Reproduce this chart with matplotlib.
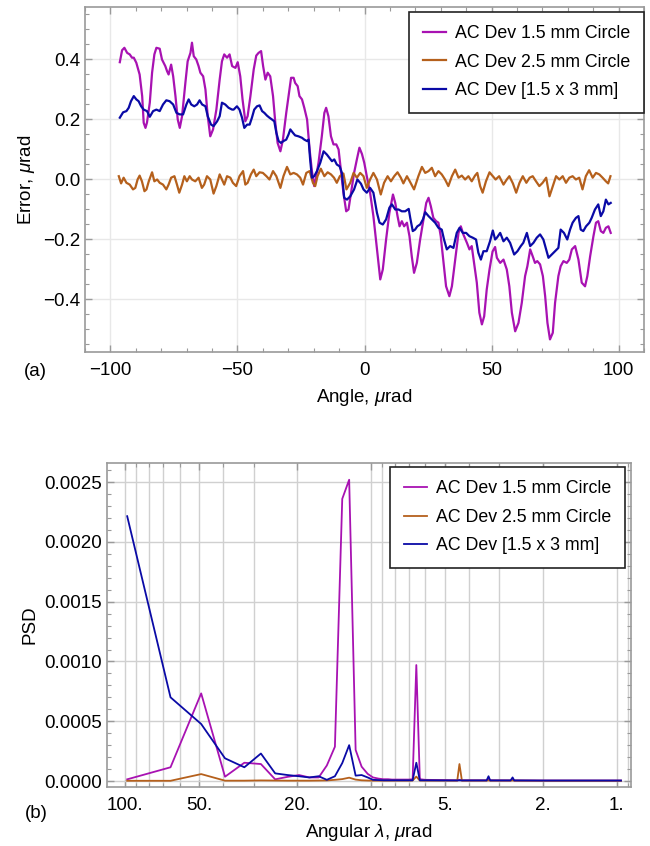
import numpy as np
import matplotlib
matplotlib.use("Agg")
import matplotlib.pyplot as plt
from matplotlib.ticker import MultipleLocator, FixedLocator, LogLocator, NullFormatter, FuncFormatter

plt.rcParams['font.family'] = ['Liberation Sans', 'DejaVu Sans']
plt.rcParams['mathtext.fontset'] = 'custom'
plt.rcParams['mathtext.rm'] = 'Liberation Sans'
plt.rcParams['mathtext.it'] = 'Liberation Sans:italic'

labels = ["AC Dev 1.5 mm Circle", "AC Dev 2.5 mm Circle", "AC Dev [1.5 x 3 mm]"]
colors = ["#A812B2", "#B5601C", "#0A0AA6"]

# ---- (a) error vs angle
ang_15 = [-96.3, -95.4, -94.5, -93.4, -92.4, -91.5, -90.8, -89.8, -88.5, -87.5, -86.9, -86.2, -85.6, -84.5,
          -83.6, -82.7, -81.9, -80.6, -79.7, -78.4, -77.7, -77.1, -76.1, -75.3, -74.4, -73.5, -72.7, -71.8,
          -70.5, -69.6, -68.5, -67.9, -67.2, -66.2, -65.3, -64.6, -63.5, -62.6, -61.7, -60.7, -59.6, -58.3,
          -57.0, -56.1, -55.2, -54.1, -53.1, -52.1, -50.8, -49.9, -48.9, -48.0, -46.9, -46.0, -44.9, -43.6,
          -42.6, -41.7, -40.7, -39.9, -39.0, -38.1, -37.1, -36.0, -35.1, -34.2, -33.1, -32.1, -30.8, -29.9,
          -28.9, -27.9, -27.3, -26.3, -25.6, -24.6, -23.7, -22.6, -21.6, -20.7, -19.8, -19.0, -18.1, -16.8,
          -15.8, -15.1, -14.2, -13.2, -12.2, -11.1, -10.2, -9.3, -8.3, -7.2, -6.3, -5.3, -4.1, -3.0, -2.0,
          -1.0, -0.1, 0.9, 2.2, 3.5, 4.9, 6.2, 7.2, 8.5, 9.8, 11.2, 12.1, 13.0, 13.8, 14.7, 15.6, 16.7, 17.7,
          18.6, 19.5, 20.6, 21.9, 23.2, 24.3, 25.2, 26.1, 27.1, 28.2, 29.1, 30.0, 31.1, 32.1, 33.4, 34.4,
          35.7, 37.0, 37.9, 38.9, 40.3, 41.3, 42.2, 43.1, 44.2, 45.2, 46.2, 47.1, 48.1, 49.2, 50.4, 51.4,
          52.1, 53.4, 54.7, 56.0, 57.0, 58.0, 59.3, 60.6, 61.9, 63.2, 64.1, 65.2, 66.2, 67.1, 68.0, 69.1,
          70.2, 71.1, 72.0, 73.0, 74.1, 75.0, 76.3, 77.2, 78.3, 79.6, 80.6, 81.6, 82.9, 84.2, 85.5, 86.8,
          87.7, 88.8, 90.1, 91.1, 92.0, 93.0, 94.0, 95.0, 96.0, 96.9]
err_15 = [0.391, 0.431, 0.439, 0.422, 0.417, 0.406, 0.406, 0.389, 0.35, 0.278, 0.189, 0.172, 0.19, 0.256,
          0.356, 0.417, 0.439, 0.436, 0.4, 0.378, 0.361, 0.35, 0.383, 0.344, 0.278, 0.2, 0.172, 0.211,
          0.322, 0.394, 0.422, 0.456, 0.411, 0.4, 0.378, 0.356, 0.344, 0.3, 0.211, 0.144, 0.167, 0.233,
          0.333, 0.394, 0.417, 0.406, 0.417, 0.378, 0.372, 0.391, 0.344, 0.267, 0.194, 0.211, 0.278, 0.367,
          0.413, 0.422, 0.428, 0.378, 0.333, 0.356, 0.344, 0.278, 0.189, 0.122, 0.094, 0.133, 0.222, 0.278,
          0.339, 0.339, 0.322, 0.311, 0.278, 0.267, 0.239, 0.2, 0.1, 0.028, -0.022, 0.011, 0.056, 0.144,
          0.222, 0.239, 0.211, 0.144, 0.117, 0.117, 0.1, 0.033, -0.044, -0.106, -0.1, -0.044, 0.022, 0.067,
          0.106, 0.085, 0.056, 0.011, -0.044, -0.122, -0.233, -0.333, -0.3, -0.2, -0.111, -0.05, -0.078,
          -0.122, -0.156, -0.139, -0.156, -0.144, -0.189, -0.256, -0.311, -0.278, -0.2, -0.133, -0.078,
          -0.061, -0.089, -0.128, -0.139, -0.144, -0.189, -0.278, -0.356, -0.389, -0.356, -0.267, -0.178,
          -0.156, -0.183, -0.211, -0.233, -0.222, -0.278, -0.344, -0.444, -0.483, -0.456, -0.367, -0.3,
          -0.24, -0.225, -0.261, -0.278, -0.267, -0.3, -0.356, -0.444, -0.506, -0.478, -0.411, -0.322,
          -0.289, -0.233, -0.256, -0.278, -0.272, -0.283, -0.322, -0.389, -0.478, -0.533, -0.511, -0.411,
          -0.322, -0.289, -0.272, -0.278, -0.267, -0.233, -0.222, -0.267, -0.344, -0.356, -0.322, -0.256,
          -0.189, -0.144, -0.139, -0.172, -0.178, -0.161, -0.156, -0.178]

ang_25 = [-96.7, -95.8, -94.8, -93.7, -92.4, -91.1, -90.2, -89.3, -88.5, -87.6, -86.6, -85.8, -84.9, -83.6,
          -82.7, -81.6, -80.6, -79.3, -78.0, -77.1, -76.1, -74.8, -73.8, -72.9, -71.8, -70.9, -69.9, -68.8,
          -67.9, -66.6, -65.3, -64.0, -63.1, -62.0, -60.7, -59.4, -58.3, -57.0, -56.1, -55.2, -54.1, -52.8,
          -51.8, -50.5, -49.2, -47.8, -46.9, -46.0, -44.7, -43.6, -42.6, -41.3, -40.0, -38.6, -37.4, -36.0,
          -34.7, -33.1, -31.9, -30.5, -29.2, -27.9, -26.6, -25.3, -24.2, -22.9, -21.6, -20.3, -19.4, -18.5,
          -17.2, -15.8, -14.5, -13.2, -12.0, -10.9, -9.7, -8.3, -7.1, -5.6, -4.3, -3.0, -1.7, -0.4, 0.9, 2.2,
          3.5, 4.9, 6.4, 7.7, 9.1, 10.4, 11.7, 13.0, 14.3, 15.3, 16.7, 18.0, 19.5, 21.2, 22.6, 23.9, 25.2,
          26.5, 27.8, 29.1, 30.4, 31.7, 33.0, 34.4, 35.7, 37.0, 38.3, 39.6, 40.9, 42.2, 43.5, 44.4, 45.5,
          46.5, 47.8, 49.2, 50.5, 51.6, 53.0, 54.7, 56.0, 57.0, 58.4, 59.7, 61.0, 62.3, 63.7, 65.0, 66.2,
          67.5, 68.8, 70.1, 71.5, 72.8, 74.1, 75.4, 76.7, 78.0, 79.3, 80.6, 81.9, 83.2, 84.5, 85.8, 87.1,
          88.4, 89.8, 91.1, 92.4, 93.7, 95.0, 95.9, 96.8]
err_25 = [0.011, -0.013, 0.006, -0.011, -0.017, -0.033, -0.028, 0.0, 0.013, -0.006, -0.039, -0.033, -0.006,
          0.024, -0.006, 0.0, -0.011, -0.017, -0.033, -0.017, 0.006, 0.011, -0.017, -0.044, -0.017, 0.011,
          -0.006, 0.011, 0.0, -0.006, 0.006, -0.028, -0.017, 0.011, 0.0, -0.047, -0.022, 0.017, 0.0, -0.017,
          0.011, 0.006, -0.011, -0.022, 0.011, 0.028, -0.017, -0.011, 0.017, 0.033, 0.011, 0.024, 0.022,
          0.011, 0.0, 0.028, 0.011, -0.028, 0.011, 0.042, 0.017, 0.022, 0.017, 0.006, -0.017, 0.022, 0.028,
          -0.011, -0.022, 0.011, 0.036, 0.011, 0.024, 0.017, 0.006, -0.011, 0.011, 0.02, -0.033, -0.011,
          0.022, 0.006, 0.022, 0.011, -0.028, 0.0, 0.022, 0.0, -0.05, -0.011, 0.011, -0.006, 0.011, 0.024,
          0.006, -0.013, 0.011, -0.009, -0.033, 0.011, 0.042, 0.022, 0.028, 0.039, 0.011, 0.028, 0.017, 0.0,
          -0.022, 0.011, 0.033, 0.006, 0.013, 0.0, 0.011, -0.006, 0.013, 0.022, -0.022, -0.044, -0.006,
          0.024, 0.011, 0.0, 0.011, -0.017, 0.0, 0.011, -0.013, -0.044, -0.011, 0.011, -0.011, 0.006, 0.011,
          -0.006, -0.022, -0.011, 0.006, -0.056, -0.022, 0.011, 0.0, 0.011, -0.011, 0.006, 0.011, 0.0, 0.006,
          -0.033, 0.011, 0.031, 0.006, 0.022, 0.017, 0.006, -0.006, -0.013, 0.011]

ang_rect = [-96.3, -95.0, -93.7, -92.8, -91.9, -90.8, -89.8, -88.9, -87.9, -86.9, -85.6, -84.5, -83.2, -81.9,
            -80.6, -79.3, -78.0, -76.7, -75.3, -74.0, -72.7, -71.4, -70.1, -69.2, -68.2, -67.0, -65.9, -64.9,
            -63.9, -62.6, -61.7, -60.4, -59.4, -58.0, -57.0, -56.1, -54.8, -53.5, -52.1, -51.5, -50.2, -49.2,
            -48.2, -47.3, -46.2, -45.2, -44.3, -43.4, -42.3, -41.3, -40.3, -39.4, -38.4, -37.4, -36.4, -35.5,
            -34.7, -33.8, -32.9, -31.9, -30.8, -29.9, -29.2, -28.2, -27.3, -26.0, -24.6, -23.7, -22.6, -22.0,
            -21.4, -20.7, -19.8, -18.7, -17.4, -16.1, -14.8, -13.8, -12.8, -11.9, -10.9, -9.8, -8.9, -8.0,
            -6.9, -5.6, -4.1, -2.8, -1.4, -0.4, 0.9, 2.2, 3.5, 4.9, 5.9, 7.2, 8.5, 9.8, 10.8, 12.1, 13.4, 14.7,
            16.0, 17.4, 18.0, 19.0, 19.9, 20.8, 21.9, 23.0, 23.9, 25.2, 26.5, 27.8, 29.1, 30.4, 31.3, 32.4,
            33.7, 35.0, 36.3, 37.4, 38.7, 40.0, 41.3, 42.6, 43.9, 44.8, 45.8, 46.8, 48.1, 49.4, 50.5, 51.4,
            52.1, 53.4, 54.7, 56.0, 57.3, 58.9, 60.2, 61.5, 62.5, 63.9, 65.2, 66.5, 67.8, 69.1, 70.4, 71.5,
            72.4, 73.7, 75.0, 76.3, 77.2, 78.5, 79.8, 80.9, 81.9, 83.2, 84.2, 85.1, 86.1, 87.2, 88.5, 89.4,
            90.7, 92.0, 93.0, 94.0, 95.0, 96.0, 96.9]
err_rect = [0.206, 0.224, 0.228, 0.239, 0.261, 0.278, 0.267, 0.261, 0.244, 0.233, 0.228, 0.209, 0.228, 0.233,
            0.228, 0.25, 0.264, 0.261, 0.25, 0.222, 0.217, 0.217, 0.25, 0.267, 0.25, 0.244, 0.25, 0.264,
            0.25, 0.244, 0.211, 0.183, 0.178, 0.194, 0.211, 0.256, 0.25, 0.239, 0.233, 0.233, 0.244, 0.233,
            0.206, 0.172, 0.183, 0.183, 0.206, 0.233, 0.244, 0.247, 0.228, 0.222, 0.213, 0.206, 0.2, 0.194,
            0.156, 0.128, 0.122, 0.128, 0.133, 0.15, 0.167, 0.156, 0.147, 0.144, 0.139, 0.133, 0.128, 0.133,
            0.067, 0.006, 0.011, 0.028, 0.056, 0.094, 0.083, 0.072, 0.061, 0.067, 0.05, 0.044, 0.022, -0.061,
            -0.067, -0.056, -0.033, 0.0, -0.014, -0.033, -0.044, -0.028, -0.044, -0.111, -0.144, -0.15, -0.133,
            -0.094, -0.083, -0.1, -0.1, -0.106, -0.106, -0.098, -0.128, -0.172, -0.167, -0.156, -0.15, -0.133,
            -0.109, -0.122, -0.133, -0.144, -0.161, -0.167, -0.2, -0.233, -0.222, -0.228, -0.178, -0.161,
            -0.178, -0.178, -0.189, -0.194, -0.2, -0.244, -0.267, -0.239, -0.239, -0.206, -0.17, -0.2, -0.194,
            -0.178, -0.206, -0.194, -0.211, -0.25, -0.239, -0.222, -0.211, -0.178, -0.222, -0.211, -0.194,
            -0.183, -0.2, -0.233, -0.261, -0.25, -0.239, -0.228, -0.167, -0.178, -0.2, -0.167, -0.144, -0.128,
            -0.122, -0.167, -0.172, -0.156, -0.144, -0.128, -0.1, -0.083, -0.122, -0.106, -0.067, -0.083, -0.078]

# ---- (b) PSD vs angular wavelength
lam = [98.0, 65.3, 49.0, 39.2, 32.7, 28.0, 24.5, 21.8, 19.6, 17.8, 16.3, 15.1, 14.0, 13.07, 12.25, 11.53,
       10.9, 10.3, 9.8, 9.3, 8.9, 8.5, 8.2, 7.5, 7.0, 6.76, 6.53, 6.32, 6.0, 5.0, 4.45, 4.36, 4.26, 3.6,
       3.38, 3.32, 3.27, 2.7, 2.65, 2.61, 2.0, 1.5, 0.96]
psd_15 = [1.4e-5, 1.15e-4, 7.33e-4, 3.6e-5, 1.53e-4, 1.42e-4, 1.4e-5, 3.5e-5, 5.0e-5, 3.0e-5, 3.0e-5,
          1.3e-4, 2.87e-4, 2.36e-3, 2.52e-3, 2.6e-4, 1.2e-4, 6.0e-5, 3.0e-5, 2.0e-5, 1.5e-5, 1.5e-5, 1.2e-5,
          1.2e-5, 1.2e-5, 1.5e-5, 9.7e-4, 1.5e-5, 1.0e-5, 8e-6, 6e-6, 1.0e-5, 6e-6, 6e-6, 6e-6, 2.0e-5, 6e-6,
          5e-6, 1.2e-5, 5e-6, 4e-6, 4e-6, 4e-6]
psd_25 = [2e-6, 2e-6, 5.8e-5, 3e-6, 3e-6, 5e-6, 4e-6, 3e-6, 3e-6, 3e-6, 4e-6, 5e-6, 1.0e-5, 1.6e-5, 2.8e-5,
          1.2e-5, 6e-6, 4e-6, 3e-6, 3e-6, 3e-6, 3e-6, 3e-6, 3e-6, 3e-6, 4e-6, 3.7e-5, 4e-6, 3e-6, 3e-6, 3e-6,
          1.42e-4, 3e-6, 3e-6, 3e-6, 6e-6, 3e-6, 3e-6, 5e-6, 3e-6, 2e-6, 2e-6, 2e-6]
psd_rect = [2.215e-3, 7.0e-4, 4.77e-4, 1.9e-4, 1.15e-4, 2.3e-4, 6.4e-5, 5.0e-5, 4.0e-5, 3.0e-5, 4.0e-5,
            1.0e-5, 4.0e-5, 1.5e-4, 3.0e-4, 4.5e-5, 5.0e-5, 3.0e-5, 1.0e-5, 8e-6, 6e-6, 6e-6, 6e-6, 6e-6, 6e-6,
            6e-6, 1.53e-4, 6e-6, 6e-6, 5e-6, 5e-6, 6e-6, 5e-6, 5e-6, 5e-6, 4.0e-5, 5e-6, 5e-6, 3.0e-5, 5e-6,
            4e-6, 4e-6, 4e-6]

FS = 13.5
spine_col = "#9a9a9a"
leg_kw = dict(loc='upper right', borderaxespad=0, fontsize=12.8, handlelength=1.3, handletextpad=0.55,
              labelspacing=0.65, fancybox=False, framealpha=1, edgecolor="#222222", borderpad=0.75)

fig = plt.figure(figsize=(6.5, 8.46), dpi=100)

# ---------------- panel (a)
ax1 = fig.add_axes([85 / 650, 1 - 352 / 846, 559 / 650, 345 / 846])
ax1.plot(ang_15, err_15, color=colors[0], lw=1.6, label=labels[0])
ax1.plot(ang_25, err_25, color=colors[1], lw=1.6, label=labels[1])
ax1.plot(ang_rect, err_rect, color=colors[2], lw=1.6, label=labels[2])
ax1.set_xlim(-110, 110)
ax1.set_ylim(-0.575, 0.575)
ax1.xaxis.set_major_locator(MultipleLocator(50))
ax1.xaxis.set_minor_locator(MultipleLocator(10))
ax1.yaxis.set_major_locator(MultipleLocator(0.2))
ax1.yaxis.set_minor_locator(MultipleLocator(0.05))
ax1.grid(True, which='major', color="#e8e8e8", lw=1.0)
ax1.set_xlabel(r"Angle, $\mathit{\mu}$rad", fontsize=FS, labelpad=6)
ax1.set_ylabel(r"Error, $\mathit{\mu}$rad", fontsize=FS)
leg1 = ax1.legend(bbox_to_anchor=(1.0, 0.986), **leg_kw)
leg1.get_frame().set_linewidth(1.2)
fig.text(35 / 650, 1 - 372 / 846, "(a)", fontsize=FS, ha='center', va='center')

# ---------------- panel (b)
ax2 = fig.add_axes([107 / 650, 1 - 787 / 846, 524 / 650, 324 / 846])
ax2.plot(lam, psd_15, color=colors[0], lw=1.3, label=labels[0])
ax2.plot(lam, psd_25, color=colors[1], lw=1.3, label=labels[1])
ax2.plot(lam, psd_rect, color=colors[2], lw=1.3, label=labels[2])
ax2.set_xscale('log')
ax2.set_xlim(118.4, 0.874)
ax2.set_ylim(-0.00005, 0.00266)
ax2.xaxis.set_major_locator(FixedLocator([100, 50, 20, 10, 5, 2, 1]))
ax2.xaxis.set_major_formatter(FuncFormatter(lambda v, p: f"{v:g}."))
ax2.xaxis.set_minor_locator(LogLocator(base=10, subs=np.arange(2, 10)))
ax2.xaxis.set_minor_formatter(NullFormatter())
ax2.yaxis.set_major_locator(MultipleLocator(0.0005))
ax2.yaxis.set_minor_locator(MultipleLocator(0.0001))
ax2.yaxis.set_major_formatter(FuncFormatter(lambda v, p: f"{v:.4f}"))
ax2.grid(True, which='major', color="#d0d0d0", lw=1.0)
ax2.grid(True, which='minor', axis='x', color="#d0d0d0", lw=1.0)
ax2.set_xlabel(r"Angular $\mathit{\lambda}$, $\mathit{\mu}$rad", fontsize=FS, labelpad=6)
ax2.set_ylabel("PSD", fontsize=FS)
leg2 = ax2.legend(bbox_to_anchor=(0.9885, 0.9877), **leg_kw)
leg2.get_frame().set_linewidth(1.2)
fig.text(36 / 650, 1 - 813 / 846, "(b)", fontsize=FS, ha='center', va='center')

for ax in (ax1, ax2):
    for s in ax.spines.values():
        s.set_color(spine_col)
        s.set_linewidth(1.2)
    ax.tick_params(which='both', direction='in', top=True, right=True, color=spine_col, labelsize=FS)
    ax.tick_params(which='major', length=5, width=1.0)
    ax.tick_params(which='minor', length=3, width=0.8)
    ax.tick_params(axis='x', pad=7)

fig.savefig("out.png", dpi=100)
